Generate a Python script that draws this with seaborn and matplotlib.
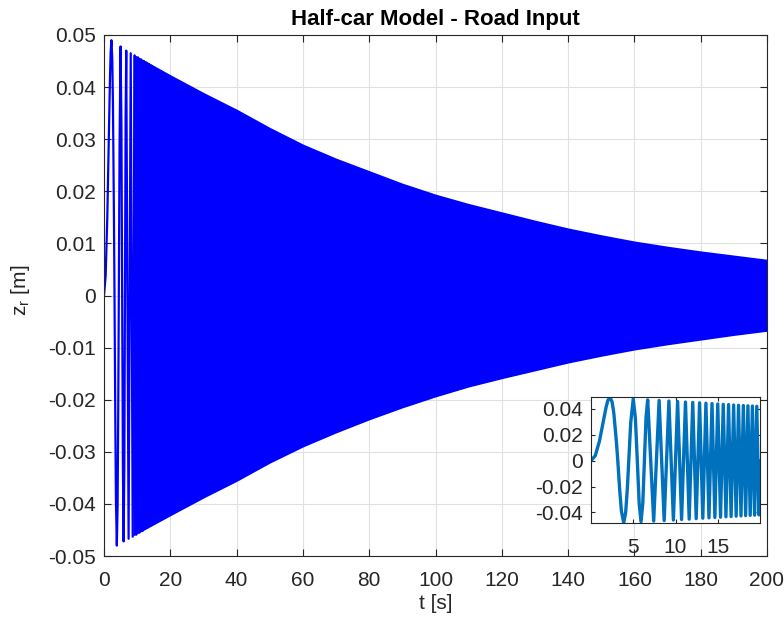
import numpy as np
import pandas as pd
import matplotlib
matplotlib.use("Agg")
import matplotlib.pyplot as plt
import seaborn as sns

# road input z_r(t)
# first few (wide) cycles
t_start = [0.0, 0.5, 1.0, 1.5, 1.8, 2.0, 2.24, 2.5, 2.7, 3.0, 3.17, 3.4, 3.6,
           3.87, 4.1, 4.3, 4.47, 4.7, 5.0, 5.25, 5.48, 5.7, 5.92, 6.13, 6.32, 6.52]
z_start = [0.0, 0.0038, 0.0151, 0.0318, 0.0417, 0.0466, 0.0490, 0.0453, 0.0368,
           0.0151, 0.0, -0.0230, -0.0390, -0.0480, -0.0403, -0.0216, 0.0, 0.0293,
           0.0478, 0.0330, 0.0, -0.0330, -0.0472, -0.0330, 0.0, 0.0340]

# later peaks / troughs up to t = 20 s
t_peaks = [6.71, 7.42, 8.06, 8.66, 9.22, 9.75, 10.25, 10.72, 11.18, 11.62, 12.04,
           12.45, 12.85, 13.23, 13.60, 13.96, 14.32, 14.66, 15.00, 15.33, 15.65,
           15.97, 16.28, 16.58, 16.88, 17.18, 17.46, 17.75, 18.03, 18.30, 18.57,
           18.84, 19.10, 19.36, 19.62, 19.87, 20.0]
z_peaks = [0.0470, -0.0467, 0.0465, -0.0463, 0.0461, -0.0459, 0.0457, -0.0455,
           0.0453, -0.0452, 0.0450, -0.0448, 0.0447, -0.0445, 0.0444, -0.0442,
           0.0441, -0.0439, 0.0438, -0.0437, 0.0435, -0.0434, 0.0433, -0.0432,
           0.0430, -0.0429, 0.0428, -0.0427, 0.0426, -0.0425, 0.0424, -0.0423,
           0.0422, -0.0421, 0.0420, -0.0419, 0.0]

# envelope of the dense part (main plot)
env_t = [9, 20, 30, 40, 50, 60, 70, 80, 90, 100, 110, 120, 130, 140, 150, 160,
         170, 180, 190, 200]
env_upper = [0.0461, 0.0422, 0.0388, 0.0356, 0.0321, 0.0289, 0.0262, 0.0238,
             0.0214, 0.0193, 0.0175, 0.0159, 0.0143, 0.0128, 0.0115, 0.0103,
             0.0093, 0.0084, 0.0076, 0.0068]
env_lower = [-0.0459, -0.0421, -0.0387, -0.0355, -0.0320, -0.0289, -0.0262,
             -0.0237, -0.0214, -0.0193, -0.0174, -0.0158, -0.0143, -0.0128,
             -0.0115, -0.0103, -0.0093, -0.0084, -0.0075, -0.0067]

x_ticks = [0, 20, 40, 60, 80, 100, 120, 140, 160, 180, 200]
y_ticks = [0.05, 0.04, 0.03, 0.02, 0.01, 0, -0.01, -0.02, -0.03, -0.04, -0.05]
y_ticklabels = ["0.05", "0.04", "0.03", "0.02", "0.01", "0", "-0.01", "-0.02",
                "-0.03", "-0.04", "-0.05"]
in_x_ticks = [5, 10, 15]
in_y_ticks = [0.04, 0.02, 0, -0.02, -0.04]
in_y_ticklabels = ["0.04", "0.02", "0", "-0.02", "-0.04"]

early = pd.DataFrame({"t": t_start + t_peaks, "z": z_start + z_peaks})

sns.set_theme(style="ticks")
plt.rcParams["font.family"] = ["Liberation Sans", "DejaVu Sans"]
plt.rcParams["axes.unicode_minus"] = False

dark = "#262626"
fig = plt.figure(figsize=(7.84, 6.26), dpi=100)
ax = fig.add_axes([104 / 784, 70 / 626, 663 / 784, 521 / 626])

ax.fill_between(env_t, env_lower, env_upper, color="#0000ff", lw=1.2,
                edgecolor="#0000ff")
sns.lineplot(data=early, x="t", y="z", ax=ax, color="#0000ff", lw=1.6,
             estimator=None, sort=False)

ax.set_xlim(0, 200)
ax.set_ylim(-0.05, 0.05)
ax.set_xticks(x_ticks)
ax.set_yticks(y_ticks)
ax.set_yticklabels(y_ticklabels)
ax.grid(True, color="#e0e0e0", lw=0.8)
ax.set_axisbelow(True)
ax.tick_params(direction="in", top=True, right=True, length=5, width=0.8,
               color=dark, labelsize=15, labelcolor=dark)
ax.tick_params(axis="x", pad=11)
ax.tick_params(axis="y", pad=6)
for s in ax.spines.values():
    s.set_color(dark)
    s.set_linewidth(0.8)
ax.set_xlabel("t [s]", fontsize=15, color=dark, labelpad=3)
ax.set_ylabel(r"$\mathregular{z_r}$ [m]", fontsize=15, color=dark)
ax.yaxis.set_label_coords(-0.108, 0.51)
ax.set_title("Half-car Model - Road Input", fontsize=16, fontweight="bold",
             color="black", pad=7)

# inset: zoom on the first 20 s
axin = fig.add_axes([591 / 784, 103 / 626, 169 / 784, 126 / 626])
axin.set_facecolor("white")
sns.lineplot(data=early, x="t", y="z", ax=axin, color="#0072bd", lw=2.4,
             estimator=None, sort=False)
axin.set_xlim(0, 20)
axin.set_ylim(-0.0482, 0.0492)
axin.set_xticks(in_x_ticks)
axin.set_yticks(in_y_ticks)
axin.set_yticklabels(in_y_ticklabels)
axin.set_xlabel("")
axin.set_ylabel("")
axin.tick_params(direction="in", top=True, right=True, length=3, width=0.8,
                 color=dark, labelsize=15, labelcolor=dark)
axin.tick_params(axis="x", pad=11)
axin.tick_params(axis="y", pad=6)
for s in axin.spines.values():
    s.set_color(dark)
    s.set_linewidth(0.8)

fig.savefig("out.png", dpi=100)
